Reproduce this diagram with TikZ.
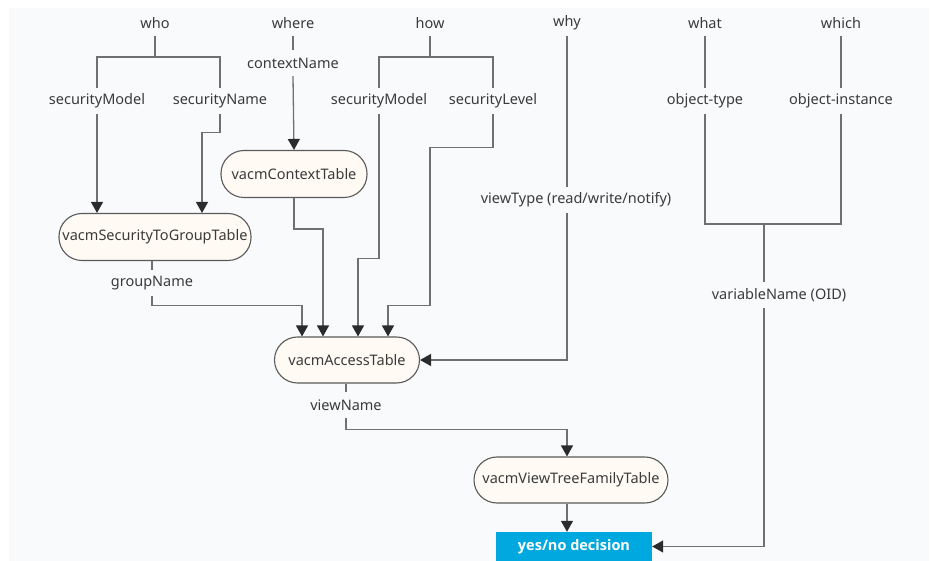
\documentclass[tikz,border=0pt]{standalone}
\usepackage{fontspec}
\setmainfont{Noto Sans}
\newfontfamily\decisionfont{Open Sans}
\usetikzlibrary{arrows.meta,calc}
\definecolor{panel}{HTML}{F8FAFC}
\definecolor{wire}{HTML}{707070}
\definecolor{tip}{HTML}{2B2B2B}
\definecolor{ink}{HTML}{3A3A3A}
\definecolor{cream}{HTML}{FFFAF4}
\definecolor{rim}{HTML}{5A5A5A}
\definecolor{decide}{HTML}{00A8E0}
\tikzset{
  lbl/.style={text=ink, inner sep=0pt, minimum height=26pt},
  tbl/.style={draw=rim, line width=1.1pt, fill=cream, text=ink, rounded corners=23pt,
              inner sep=0pt, minimum height=47pt},
  ln/.style={draw=wire, line width=1.3pt},
  arr/.style={ln, -{Triangle[length=11pt,width=12pt,fill=tip,color=tip]}},
}
\begin{document}
\begin{tikzpicture}[x=1pt, y=-1pt, font=\fontsize{14.5}{17}\selectfont]
  \useasboundingbox (0,0) rectangle (930,561);
  \fill[panel] (9,8) rectangle (929,561);

  % question words
  \node[lbl] (who)   at (155,23) {who};
  \node[lbl] (where) at (293,23) {where};
  \node[lbl] (how)   at (430,23) {how};
  \node[lbl] (why)   at (567,23) {why};
  \node[lbl] (what)  at (705,23) {what};
  \node[lbl] (which) at (841,23) {which};

  % parameters
  \node[lbl] (sm1) at (97,101)  {securityModel};
  \node[lbl] (sn1) at (220,101) {securityName};
  \node[lbl] (cn)  at (293,63)  {contextName};
  \node[lbl] (sm2) at (379,101) {securityModel};
  \node[lbl] (sl)  at (493,101) {securityLevel};
  \node[lbl] (ot)  at (705,101) {object-type};
  \node[lbl] (oi)  at (841,101) {object-instance};
  \node[lbl] (vt)  at (576,200) {viewType (read/write/notify)};
  \node[lbl] (gn)  at (152,283) {groupName};
  \node[lbl] (vn)  at (779,295) {variableName (OID)};
  \node[lbl] (vwn) at (346,405) {viewName};

  % tables
  \node[tbl, minimum width=192pt] (sts) at (155,237) {vacmSecurityToGroupTable};
  \node[tbl, minimum width=146pt] (ct)  at (294,174) {vacmContextTable};
  \node[tbl, minimum width=145pt, minimum height=46pt] (vat) at (347,360) {vacmAccessTable};
  \node[tbl, minimum width=194pt, minimum height=46pt] (vvt) at (571,480) {vacmViewTreeFamilyTable};
  \node[fill=decide, text=white, font=\decisionfont\fontsize{14.5}{17}\selectfont\bfseries,
        minimum width=156pt, minimum height=29pt, inner sep=0pt] (yn) at (574,546.5) {yes/no decision};

  % fork rows
  \coordinate (r1) at (0,57);
  \coordinate (r2) at (0,224);

  % who
  \draw[ln] (who.south) -- (who.south |- r1);
  \draw[ln] (sm1.north) -- (sm1.north |- r1) -- (sn1.north |- r1) -- (sn1.north);
  \draw[arr] (sm1.south) -- (sm1.south |- sts.north);
  \draw[arr] (sn1.south) -- ++(0,18) -| ([xshift=47pt]sts.north);

  % where
  \draw[ln] (where.south) -- (cn.north);
  \draw[arr] (cn.south) -- (ct.north);

  % how
  \draw[ln] (how.south) -- (how.south |- r1);
  \draw[ln] (sm2.north) -- (sm2.north |- r1) -- (sl.north |- r1) -- (sl.north);
  \draw[arr] (sm2.south) -- ++(0,144) -- ++(-21,0) -- ([xshift=11pt]vat.north);
  \draw[arr] (sl.south) -- ++(0,33) -- ++(-63,0) -- ++(0,158) -| ([xshift=41pt]vat.north);

  % group and context into the access table
  \draw[ln] (gn.north |- sts.south) -- (gn.north);
  \draw[arr] (gn.south) -- ++(0,9) -| ([xshift=-45pt]vat.north);
  \draw[arr] (ct.south) -- ++(0,31) -| ([xshift=-24pt]vat.north);

  % why
  \draw[ln] (why.south) -- ([xshift=-9pt]vt.north);
  \draw[arr] ([xshift=-9pt]vt.south) |- (vat.east);

  % what / which
  \draw[ln] (what.south) -- (ot.north);
  \draw[ln] (which.south) -- (oi.north);
  \draw[ln] (ot.south) -- (ot.south |- r2) -- (oi.south |- r2) -- (oi.south);
  \coordinate (vnx) at ([xshift=-15pt]vn.north);
  \draw[ln] (vnx |- r2) -- (vnx);
  \draw[arr] ([xshift=-15pt]vn.south) |- (yn.east);

  % view lookup
  \draw[ln] (vat.south -| vwn.north) -- (vwn.north);
  \draw[arr] (vwn.south) -- ++(0,11) -| ([xshift=-4pt]vvt.north);
  \draw[arr] ([xshift=-4pt]vvt.south) -- ([xshift=-7pt]yn.north);
\end{tikzpicture}
\end{document}
